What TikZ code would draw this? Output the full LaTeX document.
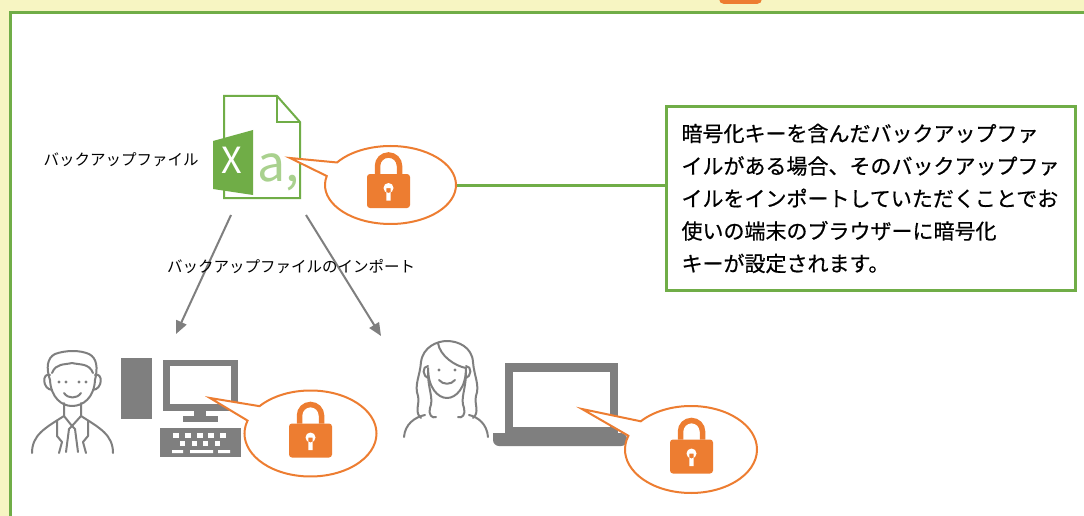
\documentclass[tikz,border=0pt]{standalone}
\usepackage{fontspec}
\setmainfont{Noto Sans CJK JP}
\newfontfamily\notefont{Noto Sans CJK JP}[RawFeature={embolden=0.6}]
\usetikzlibrary{shapes, shapes.callouts, arrows.meta, calc, positioning}

\definecolor{paneyellow}{HTML}{F7F5C2}
\definecolor{xlgreen}{HTML}{70AD47}
\definecolor{xllight}{HTML}{A9D18E}
\definecolor{keyorange}{HTML}{ED7D31}
\definecolor{icongray}{HTML}{7F7F7F}

\tikzset{
  padlock/.pic={
    \fill[keyorange, rounded corners=3pt] (-21.5,-17) rectangle (21.5,17);
    \draw[keyorange, line width=5.5pt] (-11,-17) -- (-11,-25)
        arc[start angle=180, end angle=360, radius=11] -- (11,-17);
    \fill[white] (0,-3) circle[radius=5] (-2.2,-3) rectangle (2.2,9.5);
  }
}

\begin{document}
\begin{tikzpicture}[x=1pt, y=-1pt,
            lockcall/.style={ellipse callout, draw=keyorange, fill=white,
                line width=2pt, inner sep=0pt, callout pointer arc=22},
            notebox/.style={rectangle, draw=xlgreen, fill=white, line width=3pt,
                align=left, inner sep=0pt,
                font=\notefont\fontsize{21}{32.5}\selectfont},
            label text/.style={font=\fontsize{15.5}{18}\selectfont, inner sep=0pt},
            import arrow/.style={draw=icongray, line width=2pt,
                -{Triangle[length=13pt, width=11pt]}},
            icon line/.style={draw=icongray, line width=2pt,
                line cap=round, line join=round},
            icon fill/.style={fill=icongray}]

        \useasboundingbox (0,0) rectangle (1084,516);
        \fill[paneyellow] (0,0) rectangle (1084,516);
        \fill[keyorange, rounded corners=5pt] (719,-15) rectangle (762,4);
        \fill[white] (10,12.5) rectangle (1100,530);
        \draw[xlgreen, line width=3pt] (10,530) -- (10,12.5) -- (1100,12.5);

        % backup file
        \draw[xlgreen, line width=2pt, fill=white] (224,96) -- (277,96) -- (300,122)
            -- (300,198) -- (224,198) -- cycle;
        \draw[xlgreen, line width=2pt] (277,96) -- (277,122) -- (300,122);
        \fill[xlgreen] (213,141) -- (253,130) -- (253,195) -- (213,189) -- cycle;
        \node[text=white, font=\fontsize{36}{36}\selectfont, inner sep=0pt,
            anchor=base] (xmark) at (232,173) {X};
        \node[text=xllight, font=\fontsize{50}{50}\selectfont, inner sep=0pt,
            anchor=base west] (cell) at (257,181) {a,};
        \node[label text] (fileLabel) at (121,160) {バックアップファイル};

        \node[lockcall, minimum width=131pt, minimum height=78pt,
            callout absolute pointer={(290,158)}] (lock1) at (390.5,185) {};
        \pic at (388.5,191) {padlock};

        \node[notebox, minimum width=409pt, minimum height=183pt] (note) at (870.5,198.5)
            {暗号化キーを含んだバックアップファ\\
             イルがある場合、そのバックアップファ\\
             イルをインポートしていただくことでお\\
             使いの端末のブラウザーに暗号化\\
             キーが設定されます。};
        \draw[xlgreen, line width=3pt] (lock1.east) -- (lock1.east -| note.west);

        % import arrows
        \coordinate (fromL) at (231,215);
        \coordinate (fromR) at (306,215);
        \coordinate (toDesk) at (176,334);
        \coordinate (toLaptop) at (381,336);
        \draw[import arrow] (fromL) -- (toDesk);
        \draw[import arrow] (fromR) -- (toLaptop);
        \node[label text] (importLabel) at (291,267) {バックアップファイルのインポート};

        % man
        \draw[icon line] (50,380) .. controls (46,368) and (47,358) .. (55,354)
            .. controls (66,350) and (80,350) .. (89,354)
            .. controls (97,358) and (98,368) .. (95,380);
        \draw[icon line] (52,373) .. controls (56,363) and (64,365) .. (72,363)
            .. controls (80,365) and (89,363) .. (93,373);
        \draw[icon line] (50,380) .. controls (51,398) and (62,406) .. (72,406)
            .. controls (83,406) and (94,398) .. (95,380);
        \draw[icon line] (50,375) .. controls (42,372) and (42,389) .. (52,390);
        \draw[icon line] (95,375) .. controls (103,372) and (103,389) .. (93,390);
        \fill[icongray] (59,382) circle[radius=1.6] (66,382) circle[radius=1.6]
            (79,382) circle[radius=1.6] (86,382) circle[radius=1.6];
        \draw[icon line] (64,393) .. controls (68,399) and (77,399) .. (81,393);
        \draw[icon line] (64,403) -- (64,416) -- (72,426) -- (81,416) -- (81,403);
        \draw[icon line] (69,429) -- (66,452);
        \draw[icon line] (75,429) -- (78,452);
        \draw[icon line] (69,429) -- (72,426) -- (75,429);
        \draw[icon line] (32,453) .. controls (32,435) and (45,428) .. (64,416);
        \draw[icon line] (113,453) .. controls (113,435) and (100,428) .. (81,416);
        \draw[icon line] (57,421) -- (57,436) -- (62,442) -- (59,453);
        \draw[icon line] (88,421) -- (88,436) -- (83,442) -- (86,453);

        % desktop computer
        \fill[icongray] (121,358) rectangle (152,419);
        \fill[icongray] (163,360) rectangle (238,411);
        \fill[white] (170,366) rectangle (231,404);
        \fill[icongray] (194,410) rectangle (206,417);
        \fill[icongray] (183,416) rectangle (218,422);
        \fill[icongray] (160,428) rectangle (241,457);
        \foreach \kx in {173,185,197,208,220}
            \fill[white] (\kx,433) rectangle ++(6,5);
        \foreach \kx in {180,192,203,215}
            \fill[white] (\kx,441) rectangle ++(5,5);
        \fill[white] (172,450) rectangle (183,453)
            (190,450) rectangle (213,453)
            (218,450) rectangle (230,453);

        \node[lockcall, minimum width=132pt, minimum height=86pt,
            callout absolute pointer={(210,398)}] (lock2) at (310.5,433.5) {};
        \pic at (310.5,440.5) {padlock};

        % woman
        \draw[icon line] (421,418) .. controls (414,412) and (420,404) .. (418,396)
            .. controls (414,385) and (420,376) .. (421,362)
            .. controls (423,347) and (437,341) .. (447,341)
            .. controls (458,341) and (472,347) .. (473,362)
            .. controls (474,376) and (480,385) .. (476,396)
            .. controls (474,404) and (480,412) .. (473,418);
        \draw[icon line] (428,368) .. controls (428,388) and (438,398) .. (447,398)
            .. controls (456,398) and (466,388) .. (466,368);
        \draw[icon line] (438,343) .. controls (440,356) and (455,366) .. (466,368);
        \draw[icon line] (428,372) .. controls (428,390) and (434,398) .. (430,408)
            .. controls (428,414) and (432,419) .. (436,417);
        \draw[icon line] (466,372) .. controls (466,390) and (460,398) .. (464,408)
            .. controls (466,414) and (462,419) .. (458,417);
        \draw[icon line] (428,366) .. controls (422,366) and (422,377) .. (429,378);
        \draw[icon line] (466,366) .. controls (472,366) and (472,377) .. (465,378);
        \fill[icongray] (439,370) circle[radius=1.7] (455,370) circle[radius=1.7];
        \draw[icon line] (439,380) .. controls (443,385) and (451,385) .. (455,380);
        \draw[icon line] (404,437) .. controls (405,424) and (415,417) .. (425,415);
        \draw[icon line] (488,437) .. controls (487,424) and (478,417) .. (469,415);

        % laptop
        \fill[icongray] (505,363) rectangle (618,435);
        \fill[white] (513,372) rectangle (610,427);
        \fill[icongray, rounded corners=6pt] (493,433) -- (493,446) -- (627,446)
            -- (627,433) [sharp corners] -- cycle;

        \node[lockcall, minimum width=132pt, minimum height=87pt,
            callout absolute pointer={(582,409)}] (lock3) at (691,449.5) {};
        \pic at (691.5,456.5) {padlock};

\end{tikzpicture}
\end{document}
